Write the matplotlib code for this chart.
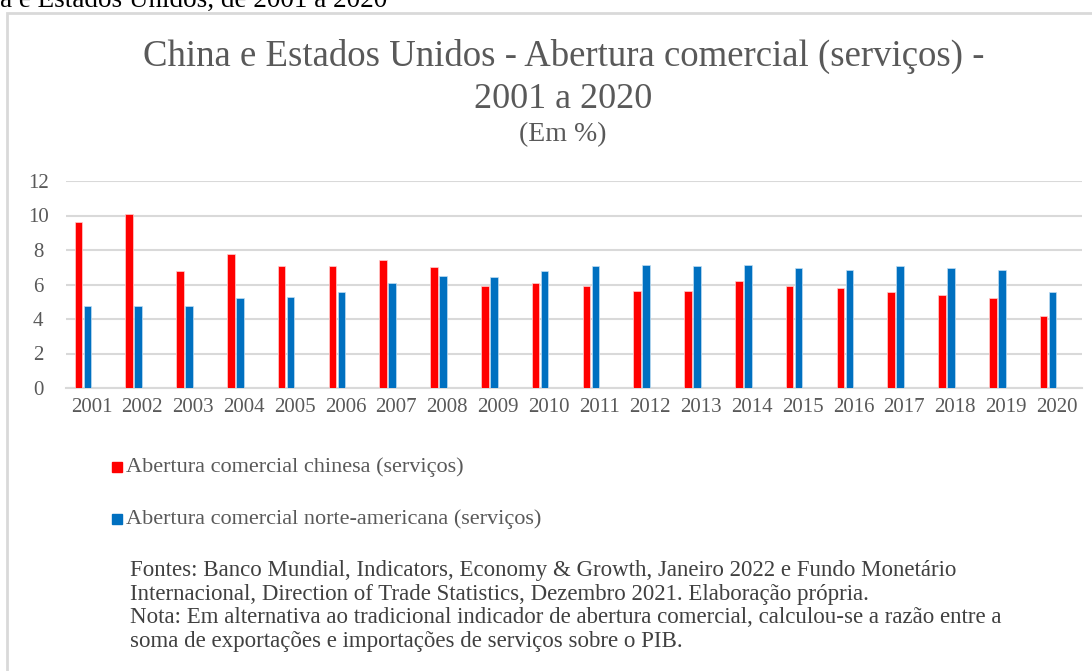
import numpy as np
import matplotlib
matplotlib.use("Agg")
import matplotlib.pyplot as plt
from matplotlib.patches import Rectangle

W, H = 1092, 671

years = ["2001", "2002", "2003", "2004", "2005", "2006", "2007", "2008", "2009", "2010",
         "2011", "2012", "2013", "2014", "2015", "2016", "2017", "2018", "2019", "2020"]
china = [9.65, 10.1, 6.78, 7.78, 7.07, 7.07, 7.43, 7.01, 5.93, 6.06,
         5.93, 5.62, 5.62, 6.20, 5.93, 5.77, 5.56, 5.41, 5.21, 4.19]
eua = [4.77, 4.77, 4.77, 5.21, 5.27, 5.56, 6.06, 6.49, 6.43, 6.78,
       7.07, 7.14, 7.07, 7.14, 6.93, 6.85, 7.07, 6.93, 6.85, 5.56]
yticks = [0, 2, 4, 6, 8, 10, 12]

label_china = "Abertura comercial chinesa (serviços)"
label_eua = "Abertura comercial norte-americana (serviços)"
title1 = "China e Estados Unidos - Abertura comercial (serviços) -"
title2 = "2001 a 2020"
title3 = "(Em %)"
nota = ("Fontes: Banco Mundial, Indicators, Economy & Growth, Janeiro 2022 e Fundo Monetário\n"
        "Internacional, Direction of Trade Statistics, Dezembro 2021. Elaboração própria.\n"
        "Nota: Em alternativa ao tradicional indicador de abertura comercial, calculou-se a razão entre a\n"
        "soma de exportações e importações de serviços sobre o PIB.")
caption = "a e Estados Unidos, de 2001 a 2020"

RED = "#FF0000"
BLUE = "#0070C0"
GRAY = "#595959"
GRID = "#D9D9D9"

plt.rcParams["font.family"] = ["Liberation Serif", "DejaVu Serif"]


def fx(px):
    return px / W


def fy(py):
    return 1 - py / H


fig = plt.figure(figsize=(W / 100, H / 100), dpi=100)

# chart frame (its right and bottom edges lie outside the picture)
fig.patches.append(Rectangle((fx(7), fy(1000)), fx(1200), (1000 - 13) / H,
                             transform=fig.transFigure, fill=False,
                             edgecolor=GRID, linewidth=2))

ax = fig.add_axes([fx(66), fy(388), fx(1082 - 66), (388 - 181) / H])
x = np.arange(len(years))
bw = 0.15
ax.bar(x - 0.255, china, bw, color=RED, edgecolor="#FFD0D0", linewidth=0.5, zorder=3)
ax.bar(x - 0.08, eua, bw, color=BLUE, edgecolor="#BFDDF2", linewidth=0.5, zorder=3)

ax.set_xlim(-0.5, len(years) - 0.5)
ax.set_ylim(0, 12)
ax.set_yticks(yticks)
ax.set_xticks(x)
ax.set_xticklabels(years)
ax.tick_params(axis="both", length=0, labelsize=15, colors=GRAY)
ax.tick_params(axis="y", pad=20)
ax.tick_params(axis="x", pad=7)
for t in ax.get_yticklabels():
    t.set_horizontalalignment("center")
ax.grid(axis="y", color=GRID, linewidth=1.5, zorder=0)
for s in ["top", "right", "left"]:
    ax.spines[s].set_visible(False)
ax.spines["bottom"].set_color(GRID)
ax.spines["bottom"].set_linewidth(1.5)

# titles
fig.text(fx(564), fy(56), title1, ha="center", va="center", fontsize=26.5, color=GRAY)
fig.text(fx(563), fy(99), title2, ha="center", va="center", fontsize=26, color=GRAY)
fig.text(fx(563), fy(135), title3, ha="center", va="center", fontsize=20, color=GRAY)

# caption cut at top
fig.text(fx(0), fy(7), caption, ha="left", va="baseline", fontsize=19.5, color="black")

# legend
for yy, col, lab in [(467, RED, label_china), (519, BLUE, label_eua)]:
    fig.patches.append(Rectangle((fx(112), fy(yy + 5)), fx(10), 10 / H,
                                 transform=fig.transFigure, color=col))
    fig.text(fx(126), fy(yy), lab, ha="left", va="center", fontsize=16, color=GRAY)

fig.text(fx(130), fy(560), nota, ha="left", va="top", fontsize=16.5, color="#404040",
         linespacing=1.17)

fig.savefig("out.png", dpi=100)
